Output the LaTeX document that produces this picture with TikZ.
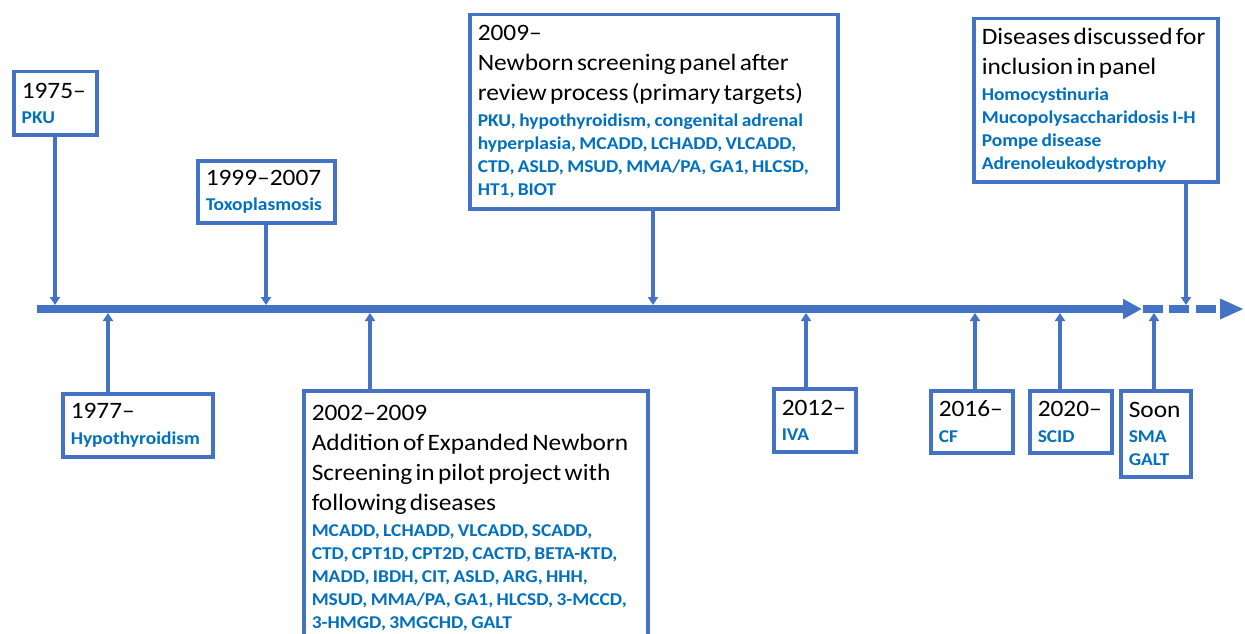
\documentclass[tikz,border=0pt]{standalone}
\usepackage{fontspec}
\setmainfont{Carlito}[FakeStretch=1.08]
\usetikzlibrary{arrows.meta}
\definecolor{lineblue}{HTML}{4472C4}
\definecolor{txtblue}{HTML}{0070C0}
\newcommand{\hd}[1]{{\fontsize{23.5}{30}\selectfont #1\par}}
\newcommand{\ds}[1]{{\vskip 2.5pt\fontsize{18}{23}\selectfont\bfseries\leavevmode\color{txtblue}#1\par}}
\begin{document}
\begin{tikzpicture}[x=1pt,y=-1pt,
		box/.style={draw=lineblue, line width=3.5pt, fill=white, anchor=north west, align=left, inner xsep=8pt, inner ysep=0pt},
		tline/.style={draw=lineblue, line width=8pt, -{Triangle[length=19pt,width=19pt]}},
		conn/.style={draw=lineblue, line width=3.5pt, -{Triangle[length=8pt,width=10pt]}, shorten >=4pt}]
		\useasboundingbox (0,0) rectangle (1245,634);
		
		\coordinate (tl0) at (37,309); \coordinate (tl1) at (1142,309);
		\coordinate (tl2) at (1143,309); \coordinate (tl3) at (1244,309);
		\draw [tline] (tl0) -- (tl1);
		\draw [tline, dash pattern=on 20pt off 6.3pt, -{Triangle[length=24pt,width=19pt]}] (tl2) -- (tl3);
		
		% above the line
		\node [box, text width=67pt, minimum height=63pt] (b1) at (12,70) {\hd{1975–}\ds{PKU}};
		\node [box, text width=121pt, minimum height=62pt] (b2) at (196,159) {\hd{1999–2007}\ds{Toxoplasmosis}};
		\node [box, text width=352pt, minimum height=194pt] (b3) at (468,13) {\hd{2009–\\Newborn screening panel after\\review process (primary targets)}\ds{PKU, hypothyroidism, congenital adrenal\\hyperplasia, MCADD, LCHADD, VLCADD,\\CTD, ASLD, MSUD, MMA/PA, GA1, HLCSD,\\HT1, BIOT}};
		\node [box, text width=228pt, minimum height=163pt] (b4) at (972,17) {\hd{Diseases discussed for\\inclusion in panel}\ds{Homocystinuria\\Mucopolysaccharidosis I-H\\Pompe disease\\Adrenoleukodystrophy}};
		
		% below the line
		\node [box, text width=134pt, minimum height=63pt] (b5) at (61,392) {\hd{1977–}\ds{Hypothyroidism}};
		\node [box, text width=328pt, minimum height=255pt] (b6) at (302,389) {\hd{2002–2009\\Addition of Expanded Newborn\\Screening in pilot project with\\following diseases}\ds{MCADD, LCHADD, VLCADD, SCADD,\\CTD, CPT1D, CPT2D, CACTD, BETA-KTD,\\MADD, IBDH, CIT, ASLD, ARG, HHH,\\MSUD, MMA/PA, GA1, HLCSD, 3-MCCD,\\3-HMGD, 3MGCHD, GALT}};
		\node [box, text width=66pt, minimum height=63pt] (b7) at (772,387) {\hd{2012–}\ds{IVA}};
		\node [box, text width=66pt, minimum height=62pt] (b8) at (929,389) {\hd{2016–}\ds{CF}};
		\node [box, text width=66pt, minimum height=62pt] (b9) at (1028,389) {\hd{2020–}\ds{SCID}};
		\node [box, text width=54pt, minimum height=86pt] (b10) at (1119,389) {\hd{Soon}\ds{SMA\\GALT}};
		
		\coordinate (t1) at (55,309); \coordinate (t2) at (266,309);
		\coordinate (t3) at (653,309); \coordinate (t4) at (1186,309);
		\coordinate (t5) at (108,309); \coordinate (t6) at (370,309);
		\coordinate (t7) at (806,309); \coordinate (t8) at (975,309);
		\coordinate (t9) at (1060,309); \coordinate (t10) at (1154,309);
		\foreach \i in {1,...,4} \draw [conn] (b\i.south -| t\i) -- (t\i);
		\foreach \i in {5,...,10} \draw [conn] (b\i.north -| t\i) -- (t\i);
\end{tikzpicture}
\end{document}
